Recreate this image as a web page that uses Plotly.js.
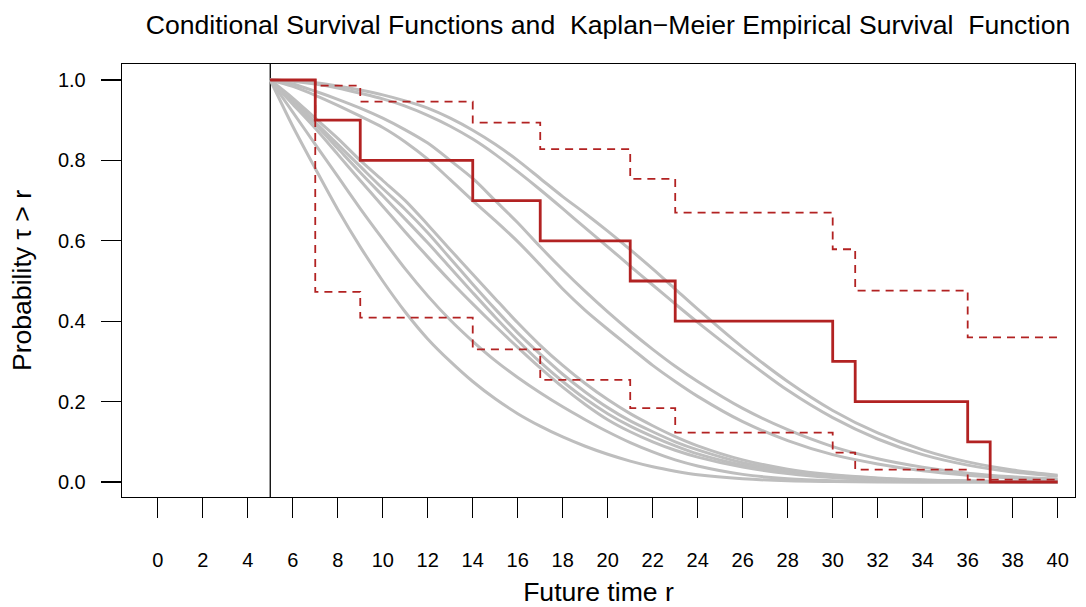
<!DOCTYPE html>
<html>
<head>
<meta charset="utf-8">
<script src="https://cdn.plot.ly/plotly-3.0.1.min.js"></script>
<style>
  html, body { margin: 0; padding: 0; background: #ffffff; }
  #chart { width: 1086px; height: 607px; }
</style>
</head>
<body>
<div id="chart"></div>
<script>
// ---- Data ----
const conditionTime = 5;

// common time grid for the conditional survival curves
const timeGrid = [5, 6, 7, 8, 9, 10, 11, 12, 13, 14, 15, 16, 17, 18, 19, 20, 21, 22, 23, 24, 26, 28, 30, 32, 34, 36, 38, 40];

// conditional survival functions (grey curves)
const survA = [1, 0.998, 0.993, 0.985, 0.975, 0.963, 0.948, 0.930, 0.905, 0.875, 0.840, 0.800, 0.755, 0.710, 0.668, 0.624, 0.578, 0.530, 0.480, 0.430, 0.335, 0.250, 0.178, 0.122, 0.080, 0.050, 0.030, 0.017];
const survB = [1, 0.997, 0.990, 0.980, 0.967, 0.953, 0.935, 0.912, 0.885, 0.853, 0.815, 0.772, 0.727, 0.680, 0.632, 0.585, 0.537, 0.490, 0.443, 0.397, 0.310, 0.228, 0.160, 0.107, 0.068, 0.042, 0.025, 0.014];
const survC = [1, 0.990, 0.972, 0.952, 0.930, 0.905, 0.876, 0.843, 0.800, 0.755, 0.700, 0.645, 0.585, 0.528, 0.474, 0.423, 0.375, 0.330, 0.288, 0.250, 0.183, 0.130, 0.088, 0.058, 0.037, 0.022, 0.013, 0.007];
const survD = [1, 0.984, 0.962, 0.937, 0.910, 0.882, 0.846, 0.803, 0.752, 0.700, 0.650, 0.598, 0.540, 0.480, 0.427, 0.380, 0.335, 0.290, 0.250, 0.213, 0.150, 0.103, 0.068, 0.045, 0.028, 0.017, 0.010, 0.005];
const survE = [1, 0.955, 0.905, 0.855, 0.800, 0.750, 0.700, 0.640, 0.578, 0.517, 0.456, 0.396, 0.340, 0.290, 0.245, 0.205, 0.170, 0.140, 0.113, 0.090, 0.055, 0.032, 0.018, 0.010, 0.005, 0.003, 0.001, 0.000];
const survF = [1, 0.950, 0.895, 0.840, 0.785, 0.730, 0.678, 0.620, 0.556, 0.492, 0.430, 0.371, 0.318, 0.268, 0.224, 0.185, 0.152, 0.125, 0.100, 0.080, 0.048, 0.028, 0.016, 0.009, 0.005, 0.002, 0.001, 0.000];
const survG = [1, 0.945, 0.890, 0.830, 0.770, 0.712, 0.654, 0.595, 0.533, 0.471, 0.410, 0.352, 0.298, 0.250, 0.207, 0.170, 0.139, 0.113, 0.090, 0.070, 0.042, 0.024, 0.013, 0.007, 0.004, 0.002, 0.001, 0.000];
const survH = [1, 0.940, 0.880, 0.815, 0.750, 0.686, 0.622, 0.560, 0.500, 0.443, 0.388, 0.335, 0.284, 0.236, 0.193, 0.155, 0.125, 0.100, 0.079, 0.062, 0.037, 0.021, 0.011, 0.006, 0.003, 0.001, 0.000, 0.000];
const survI = [1, 0.920, 0.840, 0.760, 0.680, 0.604, 0.530, 0.463, 0.403, 0.350, 0.302, 0.260, 0.222, 0.187, 0.155, 0.125, 0.098, 0.075, 0.055, 0.040, 0.019, 0.008, 0.003, 0.001, 0.000, 0.000, 0.000, 0.000];
const survJ = [1, 0.885, 0.780, 0.678, 0.585, 0.500, 0.423, 0.356, 0.300, 0.250, 0.207, 0.170, 0.139, 0.112, 0.089, 0.069, 0.052, 0.038, 0.027, 0.018, 0.008, 0.003, 0.001, 0.000, 0.000, 0.000, 0.000, 0.000];

// Kaplan-Meier empirical survival function and its confidence band
const kmTimes = [5, 7, 9, 14, 17, 21, 23, 30, 31, 36, 37, 40];
const kmSurv  = [1, 0.9, 0.8, 0.7, 0.6, 0.5, 0.4, 0.3, 0.2, 0.1, 0.0, 0.0];
const kmUpper = [1, 0.986, 0.946, 0.894, 0.828, 0.754, 0.670, 0.579, 0.476, 0.360, 0.360, 0.360];
const kmLower = [1, 0.473, 0.409, 0.330, 0.254, 0.184, 0.123, 0.073, 0.031, 0.006, 0.006, 0.006];

// axis ticks
const xTicks = [0, 2, 4, 6, 8, 10, 12, 14, 16, 18, 20, 22, 24, 26, 28, 30, 32, 34, 36, 38, 40];
const yTicks = [0, 0.2, 0.4, 0.6, 0.8, 1.0];
const yTickLabels = ['0.0', '0.2', '0.4', '0.6', '0.8', '1.0'];

// ---- Styles ----
const FONT = 'Liberation Sans, Arial, Helvetica, sans-serif';
const GREY = '#bebebe';
const RED = '#b22222';

const curves = [survA, survB, survC, survD, survE, survF, survG, survH, survI, survJ];
const traces = curves.map(function (ys) {
  return {
    x: timeGrid, y: ys, type: 'scatter', mode: 'lines',
    line: { color: GREY, width: 3, shape: 'spline', smoothing: 0.8 },
    hoverinfo: 'skip', showlegend: false
  };
});

traces.push({
  x: kmTimes, y: kmUpper, type: 'scatter', mode: 'lines',
  line: { color: RED, width: 1.8, shape: 'hv', dash: '8px,6px' },
  showlegend: false
});
traces.push({
  x: kmTimes, y: kmLower, type: 'scatter', mode: 'lines',
  line: { color: RED, width: 1.8, shape: 'hv', dash: '8px,6px' },
  showlegend: false
});
traces.push({
  x: kmTimes, y: kmSurv, type: 'scatter', mode: 'lines',
  line: { color: RED, width: 2.8, shape: 'hv' },
  showlegend: false
});

const layout = {
  width: 1086, height: 607,
  paper_bgcolor: '#ffffff', plot_bgcolor: '#ffffff',
  margin: { l: 122, r: 11, t: 64, b: 110 },
  font: { family: FONT, color: '#000000', size: 20 },
  showlegend: false,
  title: {
    text: 'Conditional Survival Functions and \u00a0Kaplan\u2212Meier Empirical Survival \u00a0Function',
    font: { family: FONT, size: 26.6, color: '#000000' },
    x: 608 / 1086, xref: 'container', xanchor: 'center',
    y: 1 - 25 / 607, yref: 'container', yanchor: 'middle'
  },
  xaxis: {
    range: [-1.59, 40.77],
    tickmode: 'array', tickvals: xTicks,
    ticks: 'outside', ticklen: 20, tickwidth: 1.3, tickcolor: '#000000',
    ticklabelstandoff: 25,
    tickfont: { family: FONT, size: 20, color: '#000000' },
    showline: true, mirror: true, linecolor: '#000000', linewidth: 1.3,
    showgrid: false, zeroline: false,
    title: { text: 'Future time r', font: { family: FONT, size: 26.6, color: '#000000' }, standoff: 25 }
  },
  yaxis: {
    range: [-0.0373, 1.0398],
    tickmode: 'array', tickvals: yTicks, ticktext: yTickLabels,
    ticks: 'outside', ticklen: 20, tickwidth: 1.3, tickcolor: '#000000',
    ticklabelstandoff: 11,
    tickfont: { family: FONT, size: 20, color: '#000000' },
    showline: true, mirror: true, linecolor: '#000000', linewidth: 1.3,
    showgrid: false, zeroline: false,
    title: { text: 'Probability \u03c4 > r', font: { family: FONT, size: 26.6, color: '#000000' }, standoff: 18 }
  },
  shapes: [{
    type: 'line', xref: 'x', yref: 'paper',
    x0: conditionTime, x1: conditionTime, y0: 0, y1: 1,
    line: { color: '#000000', width: 1.3 }, layer: 'below'
  }]
};

Plotly.newPlot('chart', traces, layout, { displayModeBar: false, staticPlot: true });
</script>
</body>
</html>
